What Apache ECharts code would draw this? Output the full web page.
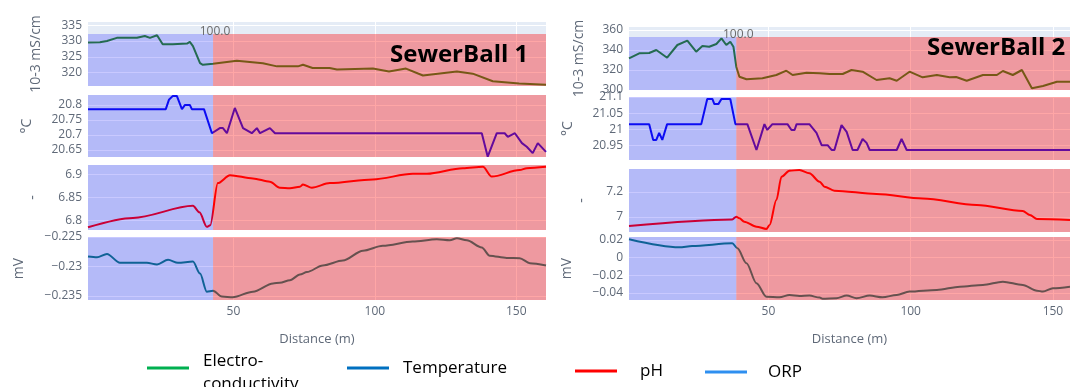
<!DOCTYPE html>
<html>
<head>
<meta charset="utf-8">
<script src="https://cdn.jsdelivr.net/npm/echarts@6/dist/echarts.min.js"></script>
<style>
html, body { margin: 0; padding: 0; background: #fff; }
#chart { width: 1070px; height: 387px; }
</style>
</head>
<body>
<div id="chart"></div>
<script>
// ---- data (distance m, value) ----
var ec1 = [[-1.4,329.5],[2.8,329.6],[5.3,330],[8.8,331],[15.9,331],[18.7,331.6],[20.5,331],[23,331.8],[25,329],[28.6,329],[33.6,329.2],[34.6,329.7],[35.7,328.4],[38.2,323],[39.2,322.5],[42.8,322.8],[51.2,323.8],[60.4,323],[65.4,322],[72.8,322],[74.6,322.5],[78,321.5],[84,321.5],[86.6,321],[99.3,321.3],[105,320.4],[111,321.3],[117,319.1],[129,320.4],[134.6,319.7],[141.7,317.3],[151,316.6],[160.5,316.2]];
var temp1 = [[-1.4,20.786],[26.1,20.786],[27.2,20.817],[28.6,20.83],[30,20.83],[31.8,20.786],[32.9,20.8],[34.6,20.8],[35.3,20.786],[39.6,20.786],[42.4,20.706],[45.2,20.723],[46.3,20.723],[47.7,20.706],[50.5,20.79],[53.4,20.723],[56.5,20.706],[58.3,20.723],[59.4,20.706],[62.9,20.723],[64.7,20.706],[137.8,20.706],[139.9,20.628],[143.1,20.706],[145.9,20.706],[147,20.694],[149.5,20.706],[152,20.673],[153.7,20.661],[155.8,20.64],[157.6,20.673],[160.5,20.644]];
var ph1 = [[-1.4,6.786],[14.5,6.806],[35.7,6.832],[38,6.818],[40.6,6.787],[41.8,6.79],[44.5,6.881],[48.8,6.898],[56.9,6.891],[62.9,6.884],[66.4,6.871],[70,6.870],[73.5,6.873],[74.6,6.878],[77.7,6.871],[84.1,6.881],[99.3,6.889],[113.4,6.901],[118.4,6.901],[131.1,6.913],[138.2,6.916],[141.3,6.895],[151.2,6.909],[153.7,6.913],[160.5,6.916]];
var orp1 = [[-1.4,-0.22833],[1.8,-0.22845],[5.3,-0.22788],[9.9,-0.22938],[14.5,-0.22938],[19.4,-0.22938],[23,-0.22967],[26.9,-0.22888],[30.4,-0.22938],[35.7,-0.22917],[38.2,-0.23122],[40.6,-0.23428],[42.8,-0.23412],[45.9,-0.23512],[49.8,-0.23522],[56.9,-0.23428],[64,-0.23288],[66.4,-0.23278],[70,-0.23233],[73.5,-0.23138],[76,-0.23095],[81.6,-0.22983],[88.7,-0.2290],[95.8,-0.22733],[102.8,-0.2265],[113.4,-0.22578],[121.9,-0.22539],[126.5,-0.22556],[129,-0.22522],[132.5,-0.22556],[137.8,-0.22678],[140.6,-0.22817],[146.6,-0.22856],[151.2,-0.22861],[154.8,-0.22944],[160.5,-0.22983]];

var ec2 = [[1,331.7],[4.6,336.7],[8.1,337],[10.6,340],[14.4,332.3],[18,345],[21.5,349.3],[24.6,338.3],[26.8,344],[29.2,343.3],[31.7,346],[33.5,351.7],[35.2,345],[36.6,348.3],[37.7,343.3],[38.7,323.3],[39.8,313.3],[42.3,310.7],[47.9,311.7],[52.8,315],[56.3,319.3],[58.5,315],[63.4,317.3],[68,316.7],[71.5,316],[76.1,316],[79.2,320],[83.1,318.3],[88,310],[92.6,311.7],[95.1,309.3],[99.6,318.3],[104.2,312.7],[109.2,315],[113.7,312.7],[116,313],[119.7,309.3],[125.4,315],[130.3,315],[132.4,319],[135.9,315],[139.1,320],[142.6,301.7],[146.5,304],[151.4,308.3],[156,308.3]];
var temp2 = [[1,21.016],[8.1,21.016],[9.5,20.967],[10.6,20.967],[11.6,20.989],[12.7,20.967],[14.4,21.016],[26.4,21.016],[28.5,21.094],[30.3,21.094],[31,21.078],[32.4,21.078],[33.5,21.094],[36.6,21.094],[38.4,21.016],[42.6,21.016],[45.8,20.936],[48.6,21.016],[49.6,20.998],[51.4,21.016],[56.7,21.016],[58.1,20.998],[59.2,20.998],[59.9,21.016],[64.4,21.016],[66.9,20.989],[68.7,20.951],[70.8,20.951],[72.2,20.936],[73.2,20.936],[75.7,21.013],[77.5,20.992],[79.6,20.936],[81.3,20.936],[83.1,20.97],[84.5,20.958],[85.6,20.936],[95.1,20.936],[96.8,20.97],[98.6,20.936],[156,20.936]];
var ph2 = [[1,6.928],[37.3,6.981],[38.7,7.003],[39.8,6.99],[41.5,6.963],[45.8,6.923],[49.3,6.904],[50.4,6.936],[52.8,7.136],[54.6,7.322],[57.4,7.37],[60.9,7.376],[64.4,7.35],[68,7.282],[69.7,7.243],[73.2,7.211],[88,7.184],[104.2,7.149],[123.2,7.096],[139.4,7.048],[141.9,7.016],[144.4,6.984],[156,6.976]];
var orp2 = [[1,0.0208],[18.7,0.0117],[23.2,0.0132],[37.3,0.0163],[39.1,0.0106],[42.3,-0.0064],[45.8,-0.029],[49.3,-0.0442],[53.9,-0.0449],[57.4,-0.0423],[60.9,-0.0434],[64.4,-0.043],[68,-0.0453],[69,-0.0465],[73.9,-0.046],[77.5,-0.043],[81,-0.046],[85.6,-0.043],[90.1,-0.0449],[95.1,-0.0423],[99.6,-0.0385],[109.2,-0.0366],[117.3,-0.0329],[125.4,-0.0309],[132.4,-0.0272],[139.4,-0.0309],[144.4,-0.0374],[146.5,-0.0385],[150,-0.0347],[156,-0.0329]];

// tick labels
var distTicks = [50, 100, 150];
var ecTicks1 = [320, 325, 330, 335];
var tempTicks1 = [20.65, 20.7, 20.75, 20.8];
var phTicks1 = [6.8, 6.85, 6.9];
var orpTicks1 = [-0.235, -0.23, -0.225];
var ecTicks2 = [300, 320, 340, 360];
var tempTicks2 = [20.95, 21, 21.05, 21.1];
var phTicks2 = [7, 7.2];
var orpTicks2 = [-0.04, -0.02, 0, 0.02];

var unitNames = ['10-3 mS/cm', '°C', '-', 'mV'];
var panelTitles = ['SewerBall 1', 'SewerBall 2'];
var boundaryText = '100.0';
var boundaries = [42.8, 38.7];
var legendNames = ['Electro-\nconductivity', 'Temperature', 'pH', 'ORP'];

var lineColors = ['#2e8823', '#1010f0', '#ff0000', '#147d7a'];
var FONT = '"Open Sans", "DejaVu Sans", sans-serif';
var TXT = '#5f6978';

var panels = [
    {left: 88, width: 458, xMin: -1.4, xMax: 160.5, split: boundaries[0], rows: [
        {top: 22, height: 64, min: 315.8, max: 336, ticks: ecTicks1, data: ec1, gap: 45, shadeTop: 332.2},
        {top: 95, height: 62, min: 20.627, max: 20.833, ticks: tempTicks1, data: temp1, gap: 54},
        {top: 165, height: 65, min: 6.78, max: 6.92, ticks: phTicks1, data: ph1, gap: 48},
        {top: 237, height: 63, min: -0.2357, max: -0.225, ticks: orpTicks1, data: orp1, gap: 62}
    ]},
    {left: 629, width: 441, xMin: 1, xMax: 156, split: boundaries[1], rows: [
        {top: 27, height: 63, min: 300, max: 363, ticks: ecTicks2, data: ec2, gap: 43, shadeTop: 353},
        {top: 97, height: 63, min: 20.905, max: 21.1, ticks: tempTicks2, data: temp2, gap: 54},
        {top: 169, height: 63, min: 6.88, max: 7.384, ticks: phTicks2, data: ph2, gap: 40},
        {top: 237, height: 63, min: -0.048, max: 0.0234, ticks: orpTicks2, data: orp2, gap: 55}
    ]}
];

var grids = [], xAxes = [], yAxes = [], series = [];

panels.forEach(function (p) {
    p.rows.forEach(function (r, ri) {
        var idx = grids.length;
        var last = ri === p.rows.length - 1;
        var top = r.shadeTop !== undefined ? r.shadeTop : r.max;
        grids.push({left: p.left, width: p.width, top: r.top, height: r.height,
            show: true, backgroundColor: '#e5ecf6', borderWidth: 0});
        xAxes.push({
            type: 'value', gridIndex: idx, min: p.xMin, max: p.xMax,
            axisLine: {show: false},
            axisTick: {show: false, customValues: distTicks},
            axisLabel: {show: last, customValues: distTicks, margin: 6,
                color: TXT, fontFamily: FONT, fontSize: 12},
            splitLine: {show: true, lineStyle: {color: '#ffffff', width: 1}},
            name: last ? 'Distance (m)' : '',
            nameLocation: 'middle', nameGap: 33,
            nameTextStyle: {color: TXT, fontFamily: FONT, fontSize: 13}
        });
        yAxes.push({
            type: 'value', gridIndex: idx, min: r.min, max: r.max,
            axisLine: {show: false},
            axisTick: {show: false, customValues: r.ticks},
            axisLabel: {customValues: r.ticks, margin: 6, color: TXT,
                fontFamily: FONT, fontSize: 12,
                formatter: function (v) { return String(v).replace('-', '\u2212'); }},
            splitLine: {show: true, lineStyle: {color: '#ffffff', width: 1}},
            name: unitNames[ri], nameLocation: 'middle', nameGap: r.gap,
            nameTextStyle: {color: TXT, fontFamily: FONT, fontSize: 14}
        });
        series.push({
            type: 'line', xAxisIndex: idx, yAxisIndex: idx, data: r.data,
            showSymbol: false, symbol: 'none', z: 2,
            smooth: (ri >= 2) ? 0.3 : false, smoothMonotone: 'x',
            lineStyle: {color: lineColors[ri], width: 2}
        });
        // shaded zones drawn above the lines
        var overlay = {
            type: 'line', xAxisIndex: idx, yAxisIndex: idx, data: [], z: 10, silent: true,
            markArea: {
                silent: true, z: 10,
                data: [
                    [{xAxis: p.xMin, yAxis: r.min, itemStyle: {color: 'rgba(0,0,255,0.21)'}},
                     {xAxis: p.split, yAxis: top}],
                    [{xAxis: p.split, yAxis: r.min, itemStyle: {color: 'rgba(255,0,0,0.35)'}},
                     {xAxis: p.xMax, yAxis: top}]
                ]
            }
        };
        if (ri === 0) {
            overlay.markPoint = {
                silent: true, z: 11, symbol: 'circle', symbolSize: 0,
                data: [{coord: [p.split, top]}],
                label: {show: true, position: 'inside', offset: [2, -2],
                    formatter: boundaryText, color: '#6a6a6a', fontFamily: FONT, fontSize: 12}
            };
        }
        series.push(overlay);
    });
});

var graphic = [
    {type: 'text', style: {x: 390, y: 55, text: panelTitles[0], verticalAlign: 'middle',
        font: 'bold 24px "Open Sans", sans-serif', fill: '#000'}, z: 100},
    {type: 'text', style: {x: 927, y: 48, text: panelTitles[1], verticalAlign: 'middle',
        font: 'bold 24px "Open Sans", sans-serif', fill: '#000'}, z: 100}
];

var legendLayout = [
    {x: 147, y: 368, tx: 203, color: '#00b050'},
    {x: 347, y: 368, tx: 403, color: '#0070c0'},
    {x: 575, y: 371, tx: 640, color: '#ff0000'},
    {x: 705, y: 372, tx: 768, color: '#2e8ff0'}
];
legendNames.forEach(function (n, i) {
    var l = legendLayout[i];
    graphic.push({type: 'line', shape: {x1: l.x, y1: l.y, x2: l.x + 42, y2: l.y},
        style: {stroke: l.color, lineWidth: 3}});
    graphic.push({type: 'text', style: {x: l.tx, y: i === 0 ? 373 : l.y, text: n,
        verticalAlign: 'middle', lineHeight: 23,
        font: '17px "Open Sans", sans-serif', fill: '#000'}});
});

var myChart = echarts.init(document.getElementById('chart'));
myChart.setOption({
    animation: false,
    backgroundColor: '#ffffff',
    grid: grids,
    xAxis: xAxes,
    yAxis: yAxes,
    series: series,
    graphic: graphic
});
</script>
</body>
</html>
